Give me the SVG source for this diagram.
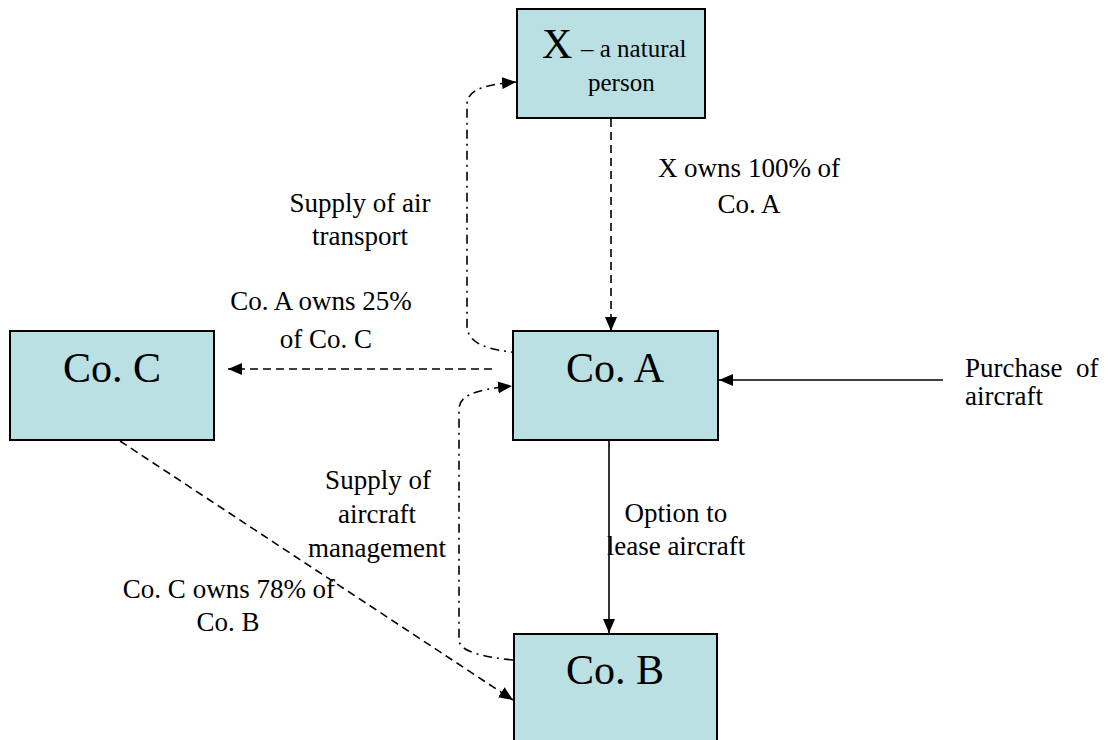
<svg xmlns="http://www.w3.org/2000/svg" width="1108" height="740" viewBox="0 0 1108 740">
<style>
.box{fill:#bae0e3;stroke:#000;stroke-width:2}
.big{font-family:"Liberation Serif","Times New Roman",serif;font-size:42px;fill:#000}
.lbl{font-family:"Liberation Serif","Times New Roman",serif;font-size:27px;fill:#000}
.sm{font-family:"Liberation Serif","Times New Roman",serif;font-size:25px;fill:#000}
.ln{fill:none;stroke:#000;stroke-width:1.6}
.dash{stroke-dasharray:8 5}
.dd{stroke-dasharray:9 5 2 5}
</style>
<defs>
<marker id="ah" markerUnits="userSpaceOnUse" markerWidth="14" markerHeight="12" refX="14" refY="6" orient="auto">
<path d="M0,0 L14,6 L0,12 z" fill="#000"/>
</marker>
</defs>
<rect width="1108" height="740" fill="#fff"/>
<g id="connectors">
<line class="ln dash" x1="611" y1="119" x2="611" y2="331" marker-end="url(#ah)"/>
<line class="ln dash" x1="492" y1="369" x2="228" y2="369" marker-end="url(#ah)"/>
<line class="ln" x1="943" y1="380" x2="719" y2="380" marker-end="url(#ah)"/>
<line class="ln" x1="609" y1="441" x2="609" y2="633" marker-end="url(#ah)"/>
<line class="ln dash" x1="120" y1="441" x2="513" y2="700" marker-end="url(#ah)"/>
<path class="ln dd" d="M520,353 C490,350 467,345 467,325 L467,105 C467,92 478,85 516,82" marker-end="url(#ah)"/>
<path class="ln dd" d="M513,660 C485,657 459,652 459,640 L459,410 C459,396 472,390 512,386" marker-end="url(#ah)"/>
</g>
<g id="nodeX">
<rect class="box" x="517" y="9" width="188" height="109"/>
<text x="542" y="58" font-family="Liberation Serif, Times New Roman, serif" font-size="42">X</text>
<text class="sm" x="581" y="57">– a natural</text>
<text class="sm" x="588" y="91">person</text>
</g>
<g id="nodeA">
<rect class="box" x="513" y="331" width="205" height="109"/>
<text class="big" x="615" y="382" text-anchor="middle">Co. A</text>
</g>
<g id="nodeC">
<rect class="box" x="10" y="331" width="204" height="109"/>
<text class="big" x="112" y="382" text-anchor="middle">Co. C</text>
</g>
<g id="nodeB">
<rect class="box" x="514" y="634" width="203" height="112"/>
<text class="big" x="615" y="684" text-anchor="middle">Co. B</text>
</g>
<g id="labels">
<text class="lbl" text-anchor="middle"><tspan x="749" y="177">X owns 100% of</tspan><tspan x="749" y="213">Co. A</tspan></text>
<text class="lbl" text-anchor="middle"><tspan x="360" y="212">Supply of air</tspan><tspan x="360" y="245">transport</tspan></text>
<text class="lbl" text-anchor="middle"><tspan x="321" y="310">Co. A owns 25%</tspan><tspan x="326" y="348">of Co. C</tspan></text>
<text class="lbl" text-anchor="middle"><tspan x="378" y="489">Supply of</tspan><tspan x="377" y="523">aircraft</tspan><tspan x="377" y="557">management</tspan></text>
<text class="lbl" text-anchor="middle"><tspan x="676" y="522">Option to</tspan><tspan x="676" y="555">lease aircraft</tspan></text>
<text class="lbl" text-anchor="middle"><tspan x="229" y="598">Co. C owns 78% of</tspan><tspan x="228" y="631">Co. B</tspan></text>
<text class="lbl"><tspan x="965" y="377">Purchase</tspan><tspan x="1076" y="377">of</tspan><tspan x="965" y="405">aircraft</tspan></text>
</g>
</svg>
